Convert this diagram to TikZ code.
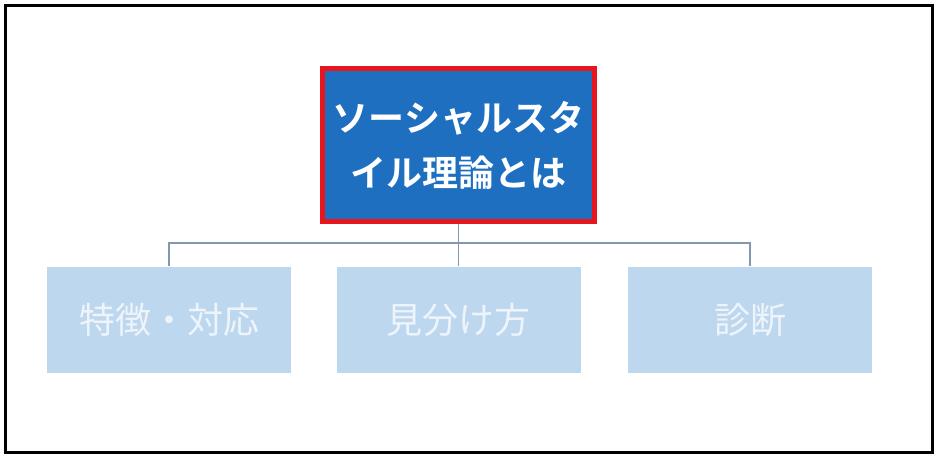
\documentclass[tikz,border=0pt]{standalone}
\usepackage{fontspec}
\newfontfamily\cjk{Noto Sans CJK JP}
\newfontfamily\cjkb{Noto Sans CJK JP Bold}
\definecolor{topblue}{HTML}{1F6FC0}
\definecolor{topred}{HTML}{E5161E}
\definecolor{subfill}{HTML}{BDD7EE}
\definecolor{subtext}{HTML}{EEF4FB}
\definecolor{linkc}{HTML}{8497B0}
\begin{document}
\begin{tikzpicture}[x=1pt,y=-1pt,
  topbox/.style={draw=topred,line width=5pt,fill=topblue,minimum width=272pt,minimum height=153pt,inner sep=0pt,text=white,align=center,font=\cjkb\fontsize{36}{55}\selectfont},
  subbox/.style={fill=subfill,minimum width=244pt,minimum height=106pt,inner sep=0pt,text=subtext,font=\cjk\fontsize{36}{44}\selectfont},
  link/.style={draw=linkc,line width=1.4pt}]
\useasboundingbox (0,0) rectangle (940,458);
\draw[line width=2.5pt,black] (5.5,5.5) rectangle (932.5,452.5);
\node[topbox] (top) at (458.5,145) {ソーシャルスタ\\イル理論とは};
\node[subbox] (a) at (169,319.5) {特徴・対応};
\node[subbox] (b) at (458.5,319.5) {見分け方};
\node[subbox] (c) at (750,319.5) {診断};
\coordinate (j) at (458.5,243);
\draw[link] (top.south) -- (j);
\draw[link] (a.north) |- (j) -| (c.north);
\draw[link] (j) -- (b.north);
\end{tikzpicture}
\end{document}
